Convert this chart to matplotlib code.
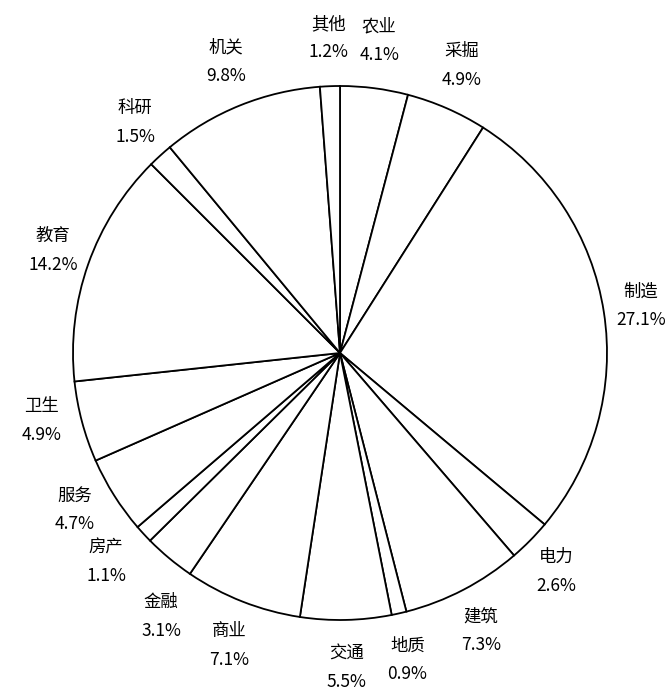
import numpy as np
import matplotlib
matplotlib.use('Agg')
import matplotlib.pyplot as plt

plt.rcParams['font.family'] = ['Noto Sans CJK SC', 'DejaVu Sans']

# Sectors, clockwise from 12 o'clock
names = ['农业', '采掘', '制造', '电力', '建筑', '地质', '交通', '商业',
         '金融', '房产', '服务', '卫生', '教育', '科研', '机关', '其他']
shares = [4.1, 4.9, 27.1, 2.6, 7.3, 0.9, 5.5, 7.1,
          3.1, 1.1, 4.7, 4.9, 14.2, 1.5, 9.8, 1.2]
pct_labels = ['%.1f%%' % s for s in shares]

# small nudges (pixels) for the crowded labels at lower left
nudge = {'金融': (16, -24), '房产': (-10, 2), '服务': (-8, 8), '卫生': (-4, 12)}

W, H = 667, 691
fig = plt.figure(figsize=(W / 100, H / 100), dpi=100)
cx, cy, r = 340, 353, 267
ax = fig.add_axes([(cx - r) / W, (H - cy - r) / H, 2 * r / W, 2 * r / H])

wedges, _ = ax.pie(shares, startangle=90, counterclock=False, radius=1,
                   colors=['white'] * len(shares),
                   wedgeprops=dict(edgecolor='black', linewidth=1.3))

# labels sit outside the rim, centred on each wedge
for w, n, p in zip(wedges, names, pct_labels):
    mid = np.deg2rad((w.theta1 + w.theta2) / 2)
    s = np.sin(mid)
    x = 1.14 * np.cos(mid)
    y = (1.15 + 0.03 * s * s) * s
    ax.annotate(n + '\n' + p, (x, y), xytext=nudge.get(n, (0, 0)),
                textcoords='offset pixels', ha='center', va='center',
                fontsize=12.5, linespacing=1.75, color='black',
                annotation_clip=False)

ax.set_xlim(-1, 1)
ax.set_ylim(-1, 1)
ax.set_aspect('equal')
ax.axis('off')

fig.savefig('out.png', dpi=100, facecolor='white')
